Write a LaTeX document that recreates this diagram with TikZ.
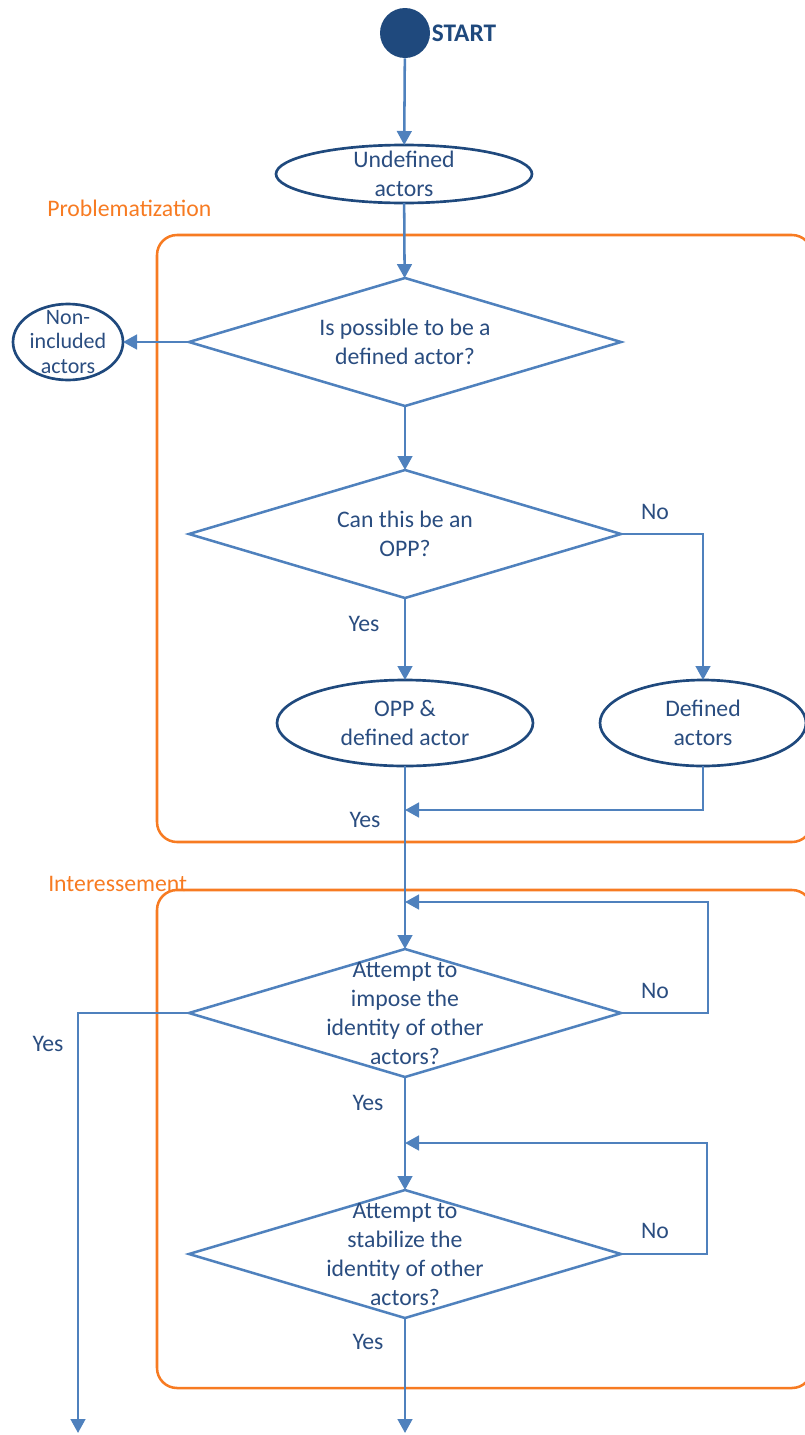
\documentclass[tikz,border=0pt]{standalone}
\usepackage{fontspec}
\setmainfont{Carlito}
\usetikzlibrary{shapes.geometric,arrows.meta,positioning}
\definecolor{lineblue}{HTML}{4F81BD}
\definecolor{darkblue}{HTML}{1F497D}
\definecolor{textblue}{HTML}{2A4D80}
\definecolor{phaseorange}{HTML}{F77B22}
\tikzset{
  arr/.style={draw=lineblue, line width=1.9pt, -{Triangle[length=10.5pt,width=11pt]}},
  conn/.style={draw=lineblue, line width=1.9pt},
  txt/.style={text=textblue, align=center, font=\fontsize{17.8}{21.75}\selectfont},
  blob/.style={ellipse, draw=darkblue, line width=2pt, inner sep=0pt, outer sep=0pt},
  decision/.style={diamond, draw=lineblue, line width=1.9pt, inner sep=0pt, outer sep=0pt,
    minimum width=324pt, minimum height=96pt},
  phase/.style={draw=phaseorange, line width=1.9pt, rounded corners=15pt},
  phaselabel/.style={text=phaseorange, anchor=west, inner sep=0pt, font=\fontsize{17.8}{21.75}\selectfont}
}
\begin{document}
\begin{tikzpicture}[x=0.75pt, y=-0.75pt]
    \useasboundingbox (0,0) rectangle (804,1435);
    % phases
    \draw[phase] (157,235) rectangle (812,842);
    \draw[phase] (157,890) rectangle (812,1388);
    \node[phaselabel] (pr) at (47,208) {Problematization};
    \node[phaselabel] (in) at (48,884) {Interessement};
    % start
    \node[circle, fill=darkblue, inner sep=0pt, minimum size=37.5pt] (st) at (405,33) {};
    \node[right=1pt of st, inner sep=0pt, text=darkblue, font=\bfseries\fontsize{19}{21}\selectfont] (stl) {START};
    % ellipses
    \node[blob, minimum width=192pt, minimum height=43.5pt,
      label={[txt]center:Undefined\\actors}] (ua) at (404,174) {};
    \node[blob, minimum width=82.5pt, minimum height=57pt,
      label={[txt, font=\fontsize{16.5}{18.5}\selectfont]center:Non-\\included\\actors}] (ni) at (68,342) {};
    \node[blob, minimum width=192pt, minimum height=64.5pt,
      label={[txt]center:OPP \&\\defined actor}] (opp) at (405,723) {};
    \node[blob, minimum width=154.5pt, minimum height=64.5pt,
      label={[txt]center:Defined\\actors}] (da) at (703,723) {};
    % decisions
    \node[decision, label={[txt]center:Is possible to be a\\defined actor?}] (d1) at (405,342) {};
    \node[decision, label={[txt]center:Can this be an\\OPP?}] (d2) at (405,534) {};
    \node[decision, label={[txt]center:Attempt to\\impose the\\identity of other\\actors?}] (d3) at (405,1013) {};
    \node[decision, label={[txt]center:Attempt to\\stabilize the\\identity of other\\actors?}] (d4) at (405,1254) {};
    % helper points
    \coordinate (j1) at (405,810);
    \coordinate (j2) at (405,902);
    \coordinate (l3) at (708,902);
    \coordinate (j3) at (405,1143);
    \coordinate (l4) at (707,1143);
    \coordinate (e1) at (78,1433);
    \coordinate (e2) at (405,1433);
    % connectors
    \draw[arr] (st) -- (ua);
    \draw[arr] (ua) -- (d1);
    \draw[arr] (d1.west) -- (ni);
    \draw[arr] (d1) -- (d2);
    \draw[arr] (d2.east) -| (da);
    \draw[arr] (d2) -- (opp);
    \draw[arr] (opp) -- (d3);
    \draw[arr] (da.south) |- (j1);
    \draw[arr] (d3.east) -| (l3) -- (j2);
    \draw[arr] (d3.west) -| (e1);
    \draw[arr] (d3) -- (d4);
    \draw[arr] (d4.east) -| (l4) -- (j3);
    \draw[arr] (d4) -- (e2);
    % yes / no
    \node[txt] (n1) at (655,512) {No};
    \node[txt] (y1) at (364,624) {Yes};
    \node[txt] (y2) at (365,820) {Yes};
    \node[txt] (n2) at (655,991) {No};
    \node[txt] (y3) at (48,1044) {Yes};
    \node[txt] (y4) at (368,1103) {Yes};
    \node[txt] (n3) at (655,1231) {No};
    \node[txt] (y5) at (368,1342) {Yes};
\end{tikzpicture}
\end{document}
